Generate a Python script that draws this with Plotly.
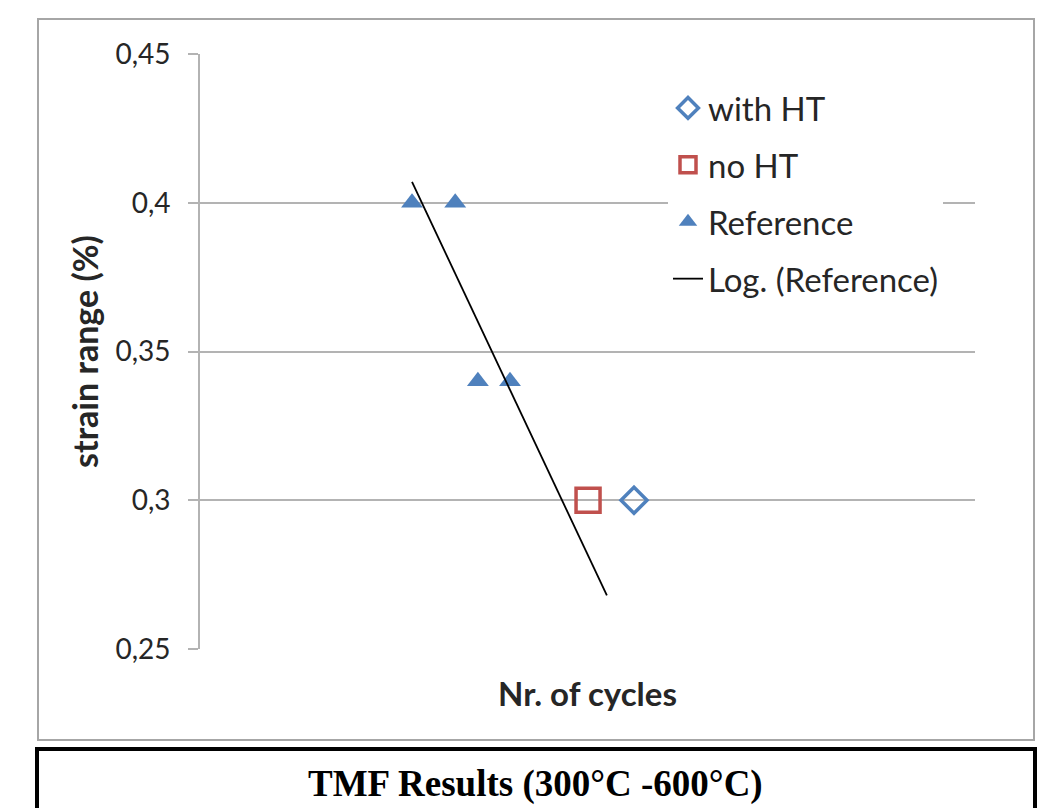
import plotly.graph_objects as go

# ---- data ----
with_ht_x = [7840]
with_ht_y = [0.30]
no_ht_x = [7010]
no_ht_y = [0.30]
reference_x = [3830, 4610, 5020, 5600]
reference_y = [0.40, 0.40, 0.34, 0.34]
trend_x = [3830, 7350]
trend_y = [0.407, 0.268]
y_tickvals = [0.25, 0.30, 0.35, 0.40, 0.45]
y_ticktext = ["0,25", "0,3", "0,35", "0,4", "0,45"]

BLUE = "#4F81BD"
RED = "#C0504D"
GRID = "#B3B3B3"
TXT = "#262626"

# figure is placed 8px in from the page corner (body margin)
W, H = 1048, 800
PL, PR, PT, PB = 192, 967, 46, 641

def px2paper_x(px):
    return (px - PL) / float(PR - PL)

def px2paper_y(py):
    return (PB - py) / float(PB - PT)

fig = go.Figure()
fig.add_trace(go.Scatter(x=with_ht_x, y=with_ht_y, mode="markers", name="with HT",
                         legendgroup="a",
                         marker=dict(symbol="diamond-open", size=20, color=BLUE,
                                     line=dict(width=3.5, color=BLUE))))
fig.add_trace(go.Scatter(x=no_ht_x, y=no_ht_y, mode="markers", name="no HT",
                         legendgroup="b",
                         marker=dict(symbol="square-open", size=24, color=RED,
                                     line=dict(width=3.5, color=RED))))
fig.add_trace(go.Scatter(x=reference_x, y=reference_y, mode="markers", name="Reference",
                         legendgroup="c",
                         marker=dict(symbol="triangle-up", size=19, color=BLUE)))
fig.add_trace(go.Scatter(x=trend_x, y=trend_y, mode="lines", name="Log. (Reference)",
                         legendgroup="d",
                         line=dict(color="black", width=1.8)))

shapes = [
    # outer grey chart border
    dict(type="rect", xref="paper", yref="paper",
         x0=px2paper_x(30), x1=px2paper_x(1026), y0=px2paper_y(732), y1=px2paper_y(11),
         line=dict(color="#A6A6A6", width=2), layer="below"),
    # black caption box
    dict(type="rect", xref="paper", yref="paper",
         x0=px2paper_x(29), x1=px2paper_x(1027), y0=px2paper_y(830), y1=px2paper_y(741),
         line=dict(color="black", width=4), layer="above"),
]

annotations = [
    dict(text="<b>TMF Results (300°C -600°C)</b>", xref="paper", yref="paper",
         x=px2paper_x(527), y=px2paper_y(776), showarrow=False,
         font=dict(family="Liberation Serif", size=37, color="black"),
         xanchor="center", yanchor="middle"),
]

fig.update_layout(
    width=W, height=H,
    margin=dict(l=PL, r=W - PR, t=PT, b=H - PB, pad=0),
    paper_bgcolor="white", plot_bgcolor="white",
    font=dict(family="Lato", color=TXT),
    shapes=shapes, annotations=annotations,
    showlegend=True,
    legend=dict(x=px2paper_x(660), y=px2paper_y(72), xanchor="left", yanchor="top",
                bgcolor="white", borderwidth=0, tracegroupgap=11,
                font=dict(family="Lato", size=33, color=TXT),
                itemsizing="trace"),
)
fig.update_xaxes(range=[0, 14000], showgrid=False, zeroline=False, showticklabels=False,
                 showline=False, ticks="",
                 title=dict(text="<b>Nr. of cycles</b>", standoff=33,
                            font=dict(family="Lato", size=33, color=TXT)))
fig.update_yaxes(range=[0.25, 0.45], tickvals=y_tickvals, ticktext=y_ticktext,
                 showgrid=True, gridcolor=GRID, gridwidth=1.6, zeroline=False,
                 showline=True, linecolor=GRID, linewidth=1.6,
                 ticks="outside", ticklen=10, tickcolor=GRID, tickwidth=1.6,
                 ticklabelstandoff=12,
                 tickfont=dict(family="Lato", size=28, color=TXT),
                 title=dict(text="<b>strain range (%)</b>", standoff=7,
                            font=dict(family="Lato", size=34, color=TXT)))

fig.write_html("out.html")
